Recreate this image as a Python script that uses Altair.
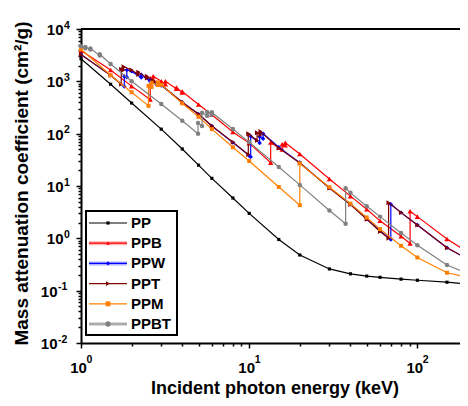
import altair as alt
import pandas as pd

# ---------------- data ----------------
SERIES = ["PP", "PPB", "PPW", "PPT", "PPM", "PPBT"]
COLORS = ["#000000", "#FF0000", "#0000FF", "#800000", "#FF8000", "#808080"]
SHAPES = ["square", "triangle-up", "diamond", "triangle-right", "square", "circle"]
SIZES = [10, 28, 20, 24, 16, 20]

PP_E = [1, 1.5, 2, 3, 4, 5, 6, 8, 10, 15, 20, 30, 40, 50, 60, 80, 100, 150, 200]
PP_MU = [2700, 880, 385, 122, 51, 25, 14, 5.9, 3.0, 0.95, 0.48, 0.26, 0.21, 0.19,
         0.18, 0.166, 0.158, 0.145, 0.133]

PPB_E = [1, 1.5, 2, 2.58, 2.58, 2.688, 2.688, 3, 3.177, 3.177, 3.696, 3.696, 3.999,
         3.999, 5, 6, 8, 10, 13.42, 13.42, 15, 15.71, 15.71, 16.39, 16.39, 20, 30, 40,
         50, 60, 80, 90.53, 90.53, 100, 150, 200]
PPB_MU = [3900, 1650, 810, 450, 1150, 1080, 1250, 1000, 880, 1000, 720, 760, 610,
          640, 360, 230, 108, 66, 28, 68, 54, 50, 63, 60, 67, 41, 13.6, 6.4, 3.6,
          2.16, 1.1, 0.8, 3.3, 2.6, 0.97, 0.54]

PPW_E = [1, 1.5, 1.809, 1.809, 1.872, 1.872, 2, 2.281, 2.281, 2.575, 2.575, 2.82,
         2.82, 3, 4, 5, 6, 8, 10, 10.21, 10.21, 11.54, 11.54, 12.1, 12.1, 15, 20, 30,
         40, 50, 60, 69.53, 69.53, 80, 100, 150, 200]
PPW_MU = [3250, 1300, 800, 1250, 1200, 1650, 1550, 1180, 1330, 1000, 1080, 860, 900,
          830, 400, 236, 140, 68, 38, 36, 89, 66, 87, 80, 100, 55, 28, 9.2, 4.5,
          2.35, 1.4, 0.95, 4.5, 3.1, 1.8, 0.66, 0.4]

PPT_E = [1, 1.5, 1.735, 1.735, 1.793, 1.793, 2, 2.194, 2.194, 2.469, 2.469, 2.708,
         2.708, 3, 4, 5, 6, 8, 9.881, 9.881, 10, 11.14, 11.14, 11.68, 11.68, 15, 20,
         30, 40, 50, 60, 67.42, 67.42, 80, 100, 150, 200]
PPT_MU = [3250, 1300, 880, 1700, 1650, 1900, 1650, 1350, 1500, 1150, 1250, 970, 1020,
          860, 400, 237, 140, 69, 40, 100, 97, 74, 104, 95, 110, 53, 27.5, 9.1, 4.4,
          2.3, 1.35, 1.0, 4.8, 3.1, 1.8, 0.66, 0.4]

PPM_E = [1, 1.5, 2, 2.52, 2.52, 2.625, 2.625, 2.866, 2.866, 3, 4, 5, 6, 8, 10, 15,
         20, 20, 30, 40, 50, 60, 80, 100, 150, 200]
PPM_MU = [4100, 1310, 620, 340, 820, 780, 940, 850, 960, 860, 380, 210, 122, 55, 30,
          9.6, 4.3, 27, 9.5, 4.6, 2.5, 1.5, 0.72, 0.43, 0.22, 0.18]

PPBT_E = [1, 1.062, 1.062, 1.137, 1.137, 1.293, 1.293, 1.5, 2, 3, 4, 4.966, 4.966,
          5.247, 5.247, 5.624, 5.624, 5.989, 5.989, 6, 8, 10, 15, 20, 30, 37.44,
          37.44, 40, 50, 60, 80, 100, 150, 200]
PPBT_MU = [4700, 4300, 4550, 4050, 4250, 3100, 3300, 2140, 1000, 370, 176, 100, 160,
           140, 250, 220, 260, 230, 255, 253, 123, 69, 23, 10.5, 3.4, 1.9, 9.1, 7.4,
           4.1, 2.6, 1.26, 0.74, 0.31, 0.21]

DATA = [(PP_E, PP_MU), (PPB_E, PPB_MU), (PPW_E, PPW_MU), (PPT_E, PPT_MU),
        (PPM_E, PPM_MU), (PPBT_E, PPBT_MU)]

X_TICK_EXP = [0, 1, 2]
Y_TICK_EXP = [4, 3, 2, 1, 0, -1, -2]
X_TICKS = [m * 10 ** k for k in (0, 1, 2) for m in range(1, 10) if m * 10 ** k <= 200]
Y_TICKS = [m * 10.0 ** k for k in (-2, -1, 0, 1, 2, 3) for m in range(1, 10)] + [10000]

# ---------------- layout ----------------
W, H = 387, 314
FONT = "Liberation Sans"
MAJOR = "abs(log(datum.value)/LN10 - round(log(datum.value)/LN10)) < 0.001"

xscale = alt.Scale(type="log", domain=[1, 200], nice=False)
yscale = alt.Scale(type="log", domain=[0.01, 10000], nice=False)

xaxis = alt.Axis(values=X_TICKS, labels=False, grid=False,
                 title="Incident photon energy (keV)", titleFont=FONT,
                 titleFontSize=18, titleFontWeight="bold", titleColor="black",
                 titleX=W / 2, titleY=50, titleAlign="center",
                 titleBaseline="alphabetic",
                 domainWidth=2, domainColor="black", tickColor="black",
                 tickWidth=1.5,
                 tickSize={"condition": {"test": MAJOR, "value": 5}, "value": 3})
yaxis = alt.Axis(values=Y_TICKS, labels=False, grid=False,
                 title="Mass attenuation coefficient (cm²/g)", titleFont=FONT,
                 titleFontSize=19, titleFontWeight="bold", titleColor="black",
                 titleX=-60, titleY=H / 2 - 3, titleAngle=-90, titleAlign="center",
                 titleBaseline="middle",
                 domainWidth=2, domainColor="black", tickColor="black",
                 tickWidth=1.5,
                 tickSize={"condition": {"test": MAJOR, "value": 5}, "value": 3})


def X(f):
    return alt.X(f, scale=xscale, axis=xaxis)


def Y(f):
    return alt.Y(f, scale=yscale, axis=yaxis)


layers = []
for name, (E, MU), col, shp, sz in zip(SERIES, DATA, COLORS, SHAPES, SIZES):
    d = pd.DataFrame({"E": E, "mu": MU, "k": list(range(len(E)))})
    base = alt.Chart(d).encode(x=X("E:Q"), y=Y("mu:Q"), order="k:Q")
    layers.append(base.mark_line(color=col, strokeWidth=1.2))
    layers.append(base.mark_point(shape=shp, size=sz, filled=True, color=col,
                                  opacity=1, strokeWidth=0))

# tick labels (10 with superscript exponent)
xl = pd.DataFrame({"v": [10.0 ** e for e in X_TICK_EXP],
                   "exp": [str(e) for e in X_TICK_EXP]})
layers.append(alt.Chart(xl).mark_text(text="10", font=FONT, fontSize=15,
                                      fontWeight="bold", align="center",
                                      baseline="middle", dx=-2.5, color="black")
              .encode(x=X("v:Q"), y=alt.value(H + 25)))
layers.append(alt.Chart(xl).mark_text(font=FONT, fontSize=10.5, fontWeight="bold",
                                      align="left", baseline="middle", dx=5.5,
                                      color="black")
              .encode(x=X("v:Q"), y=alt.value(H + 17), text="exp:N"))

yl = pd.DataFrame({"v": [10.0 ** e for e in Y_TICK_EXP],
                   "exp": [str(e) for e in Y_TICK_EXP],
                   "neg": [e < 0 for e in Y_TICK_EXP]})
for negflag, anchor in ((False, -17.5), (True, -23.5)):
    sub = alt.Chart(yl).transform_filter(
        "datum.neg" if negflag else "!datum.neg")
    layers.append(sub.mark_text(text="10", font=FONT, fontSize=15, fontWeight="bold",
                                align="right", baseline="middle", dy=1,
                                color="black")
                  .encode(y=Y("v:Q"), x=alt.value(anchor)))
    layers.append(sub.mark_text(font=FONT, fontSize=10.5, fontWeight="bold",
                                align="left", baseline="middle", dy=-3.5, dx=0.5,
                                color="black")
                  .encode(y=Y("v:Q"), x=alt.value(anchor), text="exp:N"))

# top frame line
one = pd.DataFrame({"a": [0]})
layers.append(alt.Chart(one).mark_rule(color="black", strokeWidth=2)
              .encode(x=alt.value(0), x2=alt.value(W + 6), y=alt.value(0)))

# legend
leg = pd.DataFrame({"series": SERIES, "idx": list(range(len(SERIES)))})
layers.append(alt.Chart(one).mark_rect(fill="white", stroke="black", strokeWidth=2)
              .encode(x=alt.value(5), x2=alt.value(96), y=alt.value(182),
                      y2=alt.value(306)))
lbase = alt.Chart(leg).transform_calculate(ly="194 + datum.idx * 20.2")
cscale = alt.Scale(domain=SERIES, range=COLORS)
sscale = alt.Scale(domain=SERIES, range=SHAPES)
zscale = alt.Scale(domain=SERIES, range=SIZES)
LY = alt.Y("ly:Q", scale=None, axis=None)
layers.append(lbase.transform_filter(
    alt.FieldOneOfPredicate(field="series", oneOf=["PPB", "PPW", "PPBT"]))
    .mark_rule(strokeWidth=4, opacity=0.3)
    .encode(x=alt.value(8), x2=alt.value(46), y=LY,
            color=alt.Color("series:N", scale=cscale, legend=None)))
layers.append(lbase.mark_rule(strokeWidth=1.2)
              .encode(x=alt.value(8), x2=alt.value(46), y=LY,
                      color=alt.Color("series:N", scale=cscale, legend=None)))
layers.append(lbase.mark_point(filled=True, opacity=1, strokeWidth=0)
              .encode(x=alt.value(27), y=LY,
                      color=alt.Color("series:N", scale=cscale, legend=None),
                      shape=alt.Shape("series:N", scale=sscale, legend=None),
                      size=alt.Size("series:N", scale=zscale, legend=None)))
layers.append(lbase.mark_text(align="left", baseline="middle", font=FONT,
                              fontSize=15, fontWeight="bold", color="black")
              .encode(x=alt.value(50), y=LY, text="series:N"))

chart = (alt.layer(*layers)
         .properties(width=W, height=H,
                     autosize=alt.AutoSizeParams(type="none"),
                     padding={"left": 73, "top": 21, "right": -8, "bottom": 55})
         .configure_view(stroke=None)
         .configure(font=FONT, background="white"))

chart.save("out.html", embed_options={"renderer": "svg", "actions": False})
